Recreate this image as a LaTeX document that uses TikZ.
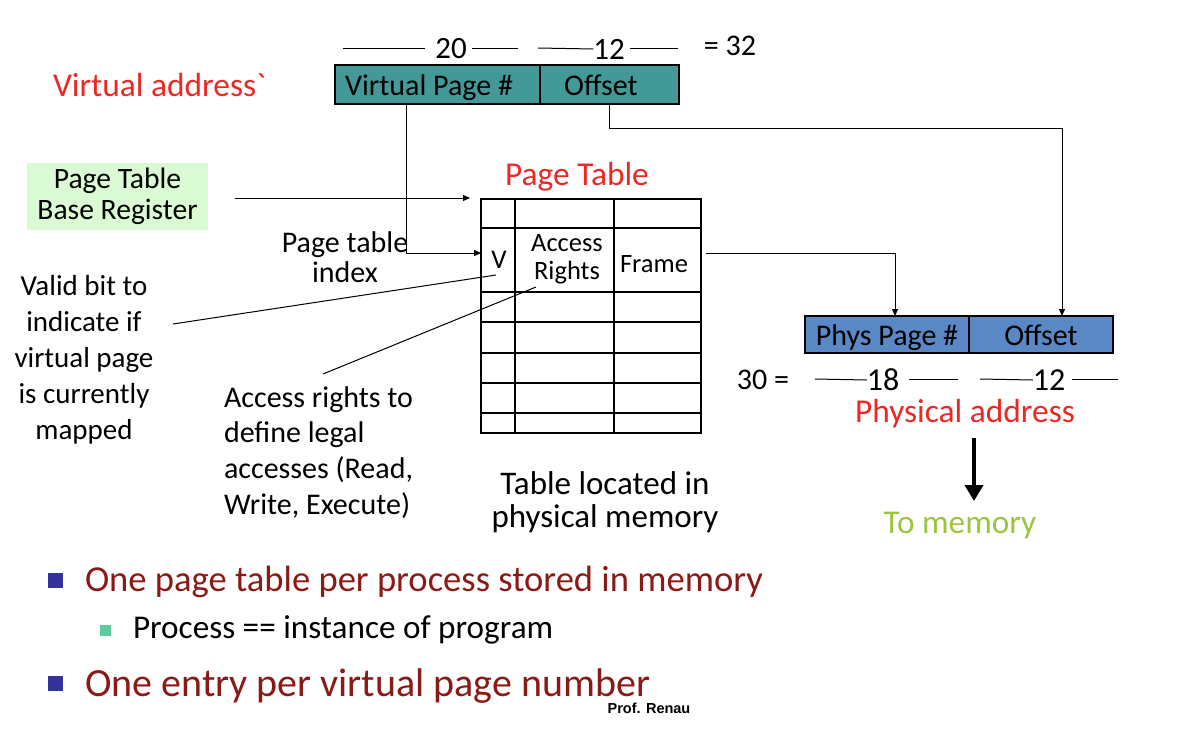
\documentclass[tikz,border=0pt]{standalone}
\usepackage{fontspec}
\setmainfont{Carlito}
\newfontfamily\rawfont{Carlito}
\newfontfamily\arialfont{Liberation Sans}
\usetikzlibrary{arrows.meta,calc}
\definecolor{tealbox}{RGB}{67,153,151}
\definecolor{physblue}{RGB}{90,136,197}
\definecolor{redtxt}{RGB}{236,40,36}
\definecolor{ptbrgreen}{RGB}{217,250,211}
\definecolor{memgreen}{RGB}{155,197,61}
\definecolor{darkred}{RGB}{138,26,22}
\definecolor{bulblue}{RGB}{51,51,153}
\definecolor{bulgreen}{RGB}{94,204,158}
\newcommand\fsz[2]{\fontsize{#1}{#2}\selectfont}
\tikzset{
  every node/.style={inner sep=0pt, outer sep=0pt},
  arr/.style={-{Triangle[length=7pt,width=6pt]}, line width=1pt},
  thin line/.style={line width=1pt},
  regbox/.style={draw=black, line width=1.2pt, minimum height=39pt, font=\fsz{30}{34}, text height=21pt, text depth=0pt},
  txt/.style={font=\fsz{31}{34}, align=center},
  redlabel/.style={font=\fsz{33.4}{38}, text=redtxt},
}
\begin{document}
\begin{tikzpicture}[x=1pt,y=-1pt]
\useasboundingbox[fill=white] (0,0) rectangle (1178,734);

% ---- virtual address ----
\node[redlabel, anchor=west] (valabel) at (53,85) {Virtual address{\rawfont\symbol{96}}};
\node[regbox, fill=tealbox, minimum width=205pt] (vpn) at (437.5,84.5) {};
\node[font=\fsz{30}{34}, anchor=base west] (vpntxt) at (345,95) {Virtual Page \#};
\node[regbox, fill=tealbox, minimum width=139pt] (voff) at (609.5,84.5) {\hspace*{-17pt}Offset};

\node[txt] (n20) at (451,49) {20};
\node[txt] (n12a) at (609,49) {12};
\node[txt, font=\fsz{30}{34}] (n32) at (730,46) {= 32};
\draw[thin line] (343,48) -- (425,48);
\draw[thin line] (472,48) -- (518,48);
\draw[thin line] (538,48) -- (n12a.west);
\draw[thin line] (630,48) -- (678,48);

% ---- page table base register ----
\node[fill=ptbrgreen, minimum width=181pt, minimum height=67pt, align=center, font=\fsz{29.6}{31}] (ptbr) at (117.5,196.5) {Page Table\\Base Register};

% ---- page table ----
\node[redlabel] (ptlabel) at (577,176.5) {Page Table};
\node[draw, line width=1.4pt, minimum width=220pt, minimum height=234pt] (ptab) at (591,316) {};
\foreach \yy in {228,292,322,353,383,413} \draw[line width=1.4pt] (481,\yy) -- (701,\yy);
\draw[line width=1.4pt] (515,199) -- (515,433);
\draw[line width=1.4pt] (614,199) -- (614,433);
\node[font=\fsz{27}{28}] (vcell) at (499,260) {V};
\node[font=\fsz{26.5}{28}, align=center] (arcell) at (567,259) {Access\\Rights};
\node[font=\fsz{26.5}{28}] (frcell) at (654,264) {Frame};

\node[txt, font=\fsz{30}{30}] (ptidx) at (345,257) {Page table\\index};
\node[txt, font=\fsz{29}{36}] (validtxt) at (84,360) {Valid bit to\\indicate if\\virtual page\\is currently\\mapped};
\node[txt, font=\fsz{30}{35.7}, align=left, anchor=west] (acctxt) at (224,452.5) {Access rights to\\define legal\\accesses (Read,\\Write, Execute)};
\node[txt, font=\fsz{33}{33}] (tloc) at (605,502) {Table located in\\physical memory};

% connectors
\draw[arr] ($(ptbr.east)+(27,1.5)$) -- ($(ptab.north west)+(-11,-1)$);
\draw[arr] ($(vpn.south west)+(71,0)$) |- ($(ptab.west)+(0,-63)$);
\coordinate (vtip) at (496,275);
\coordinate (vstart) at (173,324);
\draw[thin line] (vstart) -- (vtip);
\coordinate (atip) at (536,287);
\coordinate (astart) at (323,374);
\draw[thin line] (astart) -- (atip);

% ---- physical address ----
\node[regbox, fill=physblue, minimum width=164pt, minimum height=37pt] (ppn) at (887,334.5) {Phys Page \#};
\node[regbox, fill=physblue, minimum width=144pt, minimum height=37pt] (poff) at (1041,334.5) {Offset};

\draw[arr] ($(ptab.east)+(5,-63)$) -| ($(ppn.north)+(8,0)$);
\draw[arr] (voff.south) -- ++(0,24) -| ($(poff.north)+(21,0)$);

\node[txt, font=\fsz{30}{34}] (n30) at (763,380) {30 =};
\node[txt, font=\fsz{32}{34}] (n18) at (883,380) {18};
\node[txt, font=\fsz{32}{34}] (n12b) at (1049,380) {12};
\draw[thin line] (815,379) -- (n18.west);
\draw[thin line] (909,379) -- (958,379);
\draw[thin line] (980,379) -- (n12b.west);
\draw[thin line] (1072,379) -- (1118,379);

\node[redlabel] (palabel) at (965,414) {Physical address};
\node[font=\fsz{33.3}{38}, text=memgreen] (tomem) at (960,525) {To memory};
\draw[line width=4pt, -{Triangle[length=16pt,width=18pt]}] (974,438) -- (974,501);

% ---- bullets ----
\node[fill=bulblue, minimum size=15pt] (b1) at (55.5,580) {};
\node[anchor=west, font=\fsz{36.6}{40}, text=darkred] (t1) at (85,582) {One page table per process stored in memory};
\node[fill=bulgreen, minimum size=11pt] (b2) at (105,630) {};
\node[anchor=west, font=\fsz{33.2}{36}] (t2) at (133,630) {Process == instance of program};
\node[fill=bulblue, minimum size=15pt] (b3) at (55.5,683) {};
\node[anchor=base west, font=\fsz{40}{44}, text=darkred, text depth=0pt] (t3) at (85,696) {One entry per virtual page number};
\node[font=\fsz{14.5}{16}\arialfont\bfseries] (prof) at (649,708) {Prof. Renau};
\end{tikzpicture}
\end{document}
